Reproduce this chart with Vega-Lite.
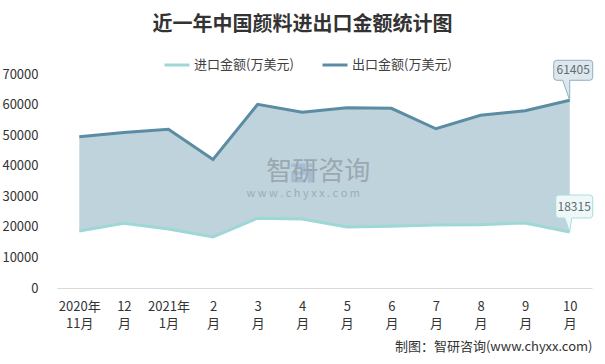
{
  "$schema": "https://vega.github.io/schema/vega-lite/v6.json",
  "width": 535,
  "height": 214,
  "autosize": {"type": "none"},
  "padding": {"left": 57, "top": 74, "right": 13, "bottom": 76},
  "background": "white",
  "config": {"view": {"stroke": null}, "font": "Noto Sans CJK SC", "axisY": {"tickCount": 8, "labelOverlap": false}},
  "title": {"text": "近一年中国颜料进出口金额统计图", "fontSize": 20, "fontWeight": "bold", "color": "#333333", "anchor": "middle", "dx": -22, "offset": 16},
  "data": {"values": [
    {"month": "2020年11月", "进口金额(万美元)": 18670, "出口金额(万美元)": 49470},
    {"month": "12月", "进口金额(万美元)": 21200, "出口金额(万美元)": 50900},
    {"month": "2021年1月", "进口金额(万美元)": 19330, "出口金额(万美元)": 51900},
    {"month": "2月", "进口金额(万美元)": 16710, "出口金额(万美元)": 42060},
    {"month": "3月", "进口金额(万美元)": 22830, "出口金额(万美元)": 60080},
    {"month": "4月", "进口金额(万美元)": 22600, "出口金额(万美元)": 57460},
    {"month": "5月", "进口金额(万美元)": 19980, "出口金额(万美元)": 58970},
    {"month": "6月", "进口金额(万美元)": 20200, "出口金额(万美元)": 58770},
    {"month": "7月", "进口金额(万美元)": 20640, "出口金额(万美元)": 52090},
    {"month": "8月", "进口金额(万美元)": 20700, "出口金额(万美元)": 56480},
    {"month": "9月", "进口金额(万美元)": 21290, "出口金额(万美元)": 57990},
    {"month": "10月", "进口金额(万美元)": 18315, "出口金额(万美元)": 61405}
  ]},
  "layer": [
    {
      "mark": {"type": "area", "color": "#bfd3dc", "opacity": 1},
      "encoding": {
        "x": {"field": "month", "type": "ordinal", "sort": null,
          "axis": {"labelAngle": 0, "domainColor": "#d9d9d9", "ticks": false, "tickSize": 0, "labelFontSize": 13, "labelColor": "#333333", "labelPadding": 12, "labelLineHeight": 17, "labelOverlap": false,
            "labelExpr": "indexof(datum.label,'年')>0 ? [slice(datum.label,0,indexof(datum.label,'年')+1), slice(datum.label,indexof(datum.label,'年')+1)] : [replace(datum.label,'月',''),'月']",
            "title": "制图：智研咨询(www.chyxx.com)", "titleAnchor": "end", "titleFontSize": 13, "titleFontWeight": "normal", "titleColor": "#333333", "titlePadding": 10}},
        "y": {"field": "出口金额(万美元)", "type": "quantitative", "scale": {"domain": [0, 70000]},
          "axis": {"title": null, "domain": false, "ticks": false, "grid": false, "labelOverlap": false, "tickCount": 8, "values": [0,10000,20000,30000,40000,50000,60000,70000], "labelFontSize": 13, "labelColor": "#333333", "labelPadding": 19, "format": "d"}},
        "y2": {"field": "进口金额(万美元)"}
      }
    },
    {
      "data": {"values": [{}]},
      "mark": {"type": "point", "shape": "M-1,-0.86 H0.3 V0.15 H-0.7 V0.56 H0.3 V0.86 H-1 V-0.15 H0 V-0.56 H-1 Z M0.5,-0.86 H0.9 V-0.56 H0.5 Z M0.5,-0.4 H0.9 V0.86 H0.5 Z", "size": 484, "filled": true, "fill": "#9bb8d3", "strokeWidth": 0, "opacity": 0.8, "dx": -58},
      "encoding": {"x": {"datum": "4月", "type": "ordinal"}, "y": {"datum": 37600, "type": "quantitative"}}
    },
    {
      "data": {"values": [{}]},
      "mark": {"type": "text", "fontSize": 26, "color": "#8f9aa1", "opacity": 0.75, "dx": 16, "baseline": "middle"},
      "encoding": {"x": {"datum": "4月", "type": "ordinal"}, "y": {"datum": 37900, "type": "quantitative"}, "text": {"value": "智研咨询"}}
    },
    {
      "data": {"values": [{}]},
      "mark": {"type": "text", "fontSize": 11, "color": "#93a0a7", "opacity": 0.75, "dx": 1, "baseline": "middle"},
      "encoding": {"x": {"datum": "4月", "type": "ordinal"}, "y": {"datum": 30600, "type": "quantitative"}, "text": {"value": "w w w . c h y x x . c o m"}}
    },
    {
      "transform": [{"fold": ["进口金额(万美元)", "出口金额(万美元)"], "as": ["series", "value"]}],
      "mark": {"type": "line", "strokeWidth": 3},
      "encoding": {
        "x": {"field": "month", "type": "ordinal", "sort": null},
        "y": {"field": "value", "type": "quantitative"},
        "color": {"field": "series", "type": "nominal",
          "scale": {"domain": ["进口金额(万美元)", "出口金额(万美元)"], "range": ["#9ed8d6", "#5b8ca3"]},
          "legend": {"orient": "none", "legendX": 106, "legendY": -23, "direction": "horizontal", "title": null, "symbolType": "stroke", "symbolSize": 625, "symbolStrokeWidth": 3, "labelFontSize": 13, "labelColor": "#404040", "columnPadding": 22, "labelOffset": 3}}
      }
    },
    {
      "transform": [{"filter": "datum.month == '10月'"}],
      "mark": {"type": "point", "shape": "M0,0 L-0.35,-1 L-0.65,-1 Q-0.8,-1 -0.8,-1.15 L-0.8,-1.85 Q-0.8,-2 -0.65,-2 L1,-2 Q1.15,-2 1.15,-1.85 L1.15,-1.15 Q1.15,-1 1,-1 L0,-1 Z", "size": 1600, "filled": true, "fill": "#dde7ed", "stroke": "#8fb0bf", "strokeWidth": 1, "opacity": 1},
      "encoding": {"x": {"field": "month", "type": "ordinal", "sort": null}, "y": {"field": "出口金额(万美元)", "type": "quantitative"}}
    },
    {
      "transform": [{"filter": "datum.month == '10月'"}],
      "mark": {"type": "text", "dx": 3.5, "dy": -30, "fontSize": 12, "color": "#5f6b73", "baseline": "middle"},
      "encoding": {"x": {"field": "month", "type": "ordinal", "sort": null}, "y": {"field": "出口金额(万美元)", "type": "quantitative"}, "text": {"field": "出口金额(万美元)", "type": "quantitative", "format": "d"}}
    },
    {
      "transform": [{"filter": "datum.month == '10月'"}],
      "mark": {"type": "point", "shape": "M0,0 L-0.25,-0.7 L-0.55,-0.7 Q-0.7,-0.7 -0.7,-0.85 L-0.7,-1.7 Q-0.7,-1.85 -0.55,-1.85 L1,-1.85 Q1.15,-1.85 1.15,-1.7 L1.15,-0.85 Q1.15,-0.7 1,-0.7 L0.1,-0.7 Z", "size": 1600, "filled": true, "fill": "#eef8f8", "stroke": "#a8dede", "strokeWidth": 1, "opacity": 1},
      "encoding": {"x": {"field": "month", "type": "ordinal", "sort": null}, "y": {"field": "进口金额(万美元)", "type": "quantitative"}}
    },
    {
      "transform": [{"filter": "datum.month == '10月'"}],
      "mark": {"type": "text", "dx": 4.5, "dy": -25.5, "fontSize": 12, "color": "#5f6b73", "baseline": "middle"},
      "encoding": {"x": {"field": "month", "type": "ordinal", "sort": null}, "y": {"field": "进口金额(万美元)", "type": "quantitative"}, "text": {"field": "进口金额(万美元)", "type": "quantitative", "format": "d"}}
    }
  ]
}
